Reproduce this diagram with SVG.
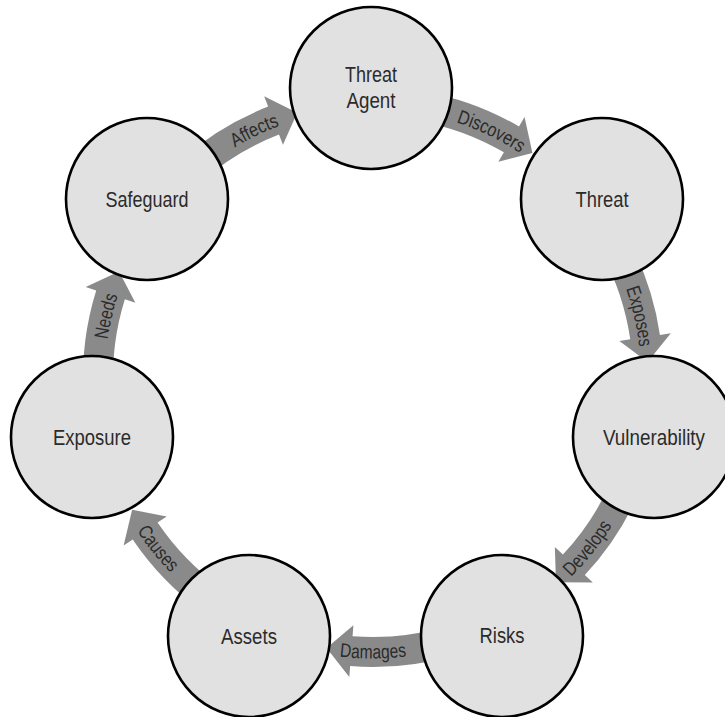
<svg xmlns="http://www.w3.org/2000/svg" xmlns:xlink="http://www.w3.org/1999/xlink" width="725" height="717" viewBox="0 0 725 717">
<style>
.node circle{fill:#e1e1e1;stroke:#000;stroke-width:2.6}
.node text{font-family:"Liberation Sans",Arial,sans-serif;font-size:22px;fill:#2b2b2b;text-anchor:middle}
.arrow{fill:#8a8a8a;stroke:none}
.lbl{font-family:"Liberation Sans",Arial,sans-serif;font-size:19.5px;fill:#2b2b2b;text-anchor:middle}
</style>
<defs>
<path id="arw" d="M50.36,-285.59 A290,290 0 0 1 146.01,-250.57 L151.55,-260.07 L159.43,-224.08 L125.37,-215.14 L130.90,-224.65 A260,260 0 0 0 45.15,-256.05 Z"/>
<path id="tpc" d="M-189.5,-189.5 A268,268 0 0 1 189.5,-189.5" fill="none"/>
<path id="tpa" d="M-199.05,199.05 A281.5,281.5 0 0 0 199.05,199.05" fill="none"/>
</defs>
<rect width="725" height="717" fill="#fff"/>
<g id="connectors">
<g transform="translate(373,377)">
<use xlink:href="#arw" href="#arw" class="arrow"/>
<use xlink:href="#arw" href="#arw" class="arrow" transform="rotate(51.4286)"/>
<use xlink:href="#arw" href="#arw" class="arrow" transform="rotate(102.8571)"/>
<use xlink:href="#arw" href="#arw" class="arrow" transform="rotate(154.2857)"/>
<use xlink:href="#arw" href="#arw" class="arrow" transform="rotate(205.7143)"/>
<use xlink:href="#arw" href="#arw" class="arrow" transform="rotate(257.1429)"/>
<use xlink:href="#arw" href="#arw" class="arrow" transform="rotate(308.5714)"/>
<text class="lbl" transform="rotate(25.7143)"><textPath xlink:href="#tpc" href="#tpc" startOffset="50%" textLength="71" lengthAdjust="spacingAndGlyphs">Discovers</textPath></text>
<text class="lbl" transform="rotate(77.1429)"><textPath xlink:href="#tpc" href="#tpc" startOffset="50%" textLength="60" lengthAdjust="spacingAndGlyphs">Exposes</textPath></text>
<text class="lbl" transform="rotate(-51.4286)"><textPath xlink:href="#tpa" href="#tpa" startOffset="50%" textLength="66" lengthAdjust="spacingAndGlyphs">Develops</textPath></text>
<text class="lbl"><textPath xlink:href="#tpa" href="#tpa" startOffset="50%" textLength="67" lengthAdjust="spacingAndGlyphs">Damages</textPath></text>
<text class="lbl" transform="rotate(51.4286)"><textPath xlink:href="#tpa" href="#tpa" startOffset="50%" textLength="54" lengthAdjust="spacingAndGlyphs">Causes</textPath></text>
<text class="lbl" transform="rotate(-77.1429)"><textPath xlink:href="#tpc" href="#tpc" startOffset="50%" textLength="45" lengthAdjust="spacingAndGlyphs">Needs</textPath></text>
<text class="lbl" transform="rotate(-25.7143)"><textPath xlink:href="#tpc" href="#tpc" startOffset="50%" textLength="50" lengthAdjust="spacingAndGlyphs">Affects</textPath></text>
</g>
</g>
<g id="node-threat-agent" class="node"><circle cx="371" cy="88" r="81"/><text x="371" y="82" textLength="52" lengthAdjust="spacingAndGlyphs">Threat</text><text x="371" y="108" textLength="49" lengthAdjust="spacingAndGlyphs">Agent</text></g>
<g id="node-threat" class="node"><circle cx="602" cy="199" r="81"/><text x="602" y="207" textLength="53" lengthAdjust="spacingAndGlyphs">Threat</text></g>
<g id="node-vulnerability" class="node"><circle cx="654" cy="437" r="81"/><text x="654" y="445" textLength="102" lengthAdjust="spacingAndGlyphs">Vulnerability</text></g>
<g id="node-risks" class="node"><circle cx="502" cy="636" r="81"/><text x="502" y="643" textLength="45" lengthAdjust="spacingAndGlyphs">Risks</text></g>
<g id="node-assets" class="node"><circle cx="249" cy="636" r="81"/><text x="249" y="644" textLength="56" lengthAdjust="spacingAndGlyphs">Assets</text></g>
<g id="node-exposure" class="node"><circle cx="92" cy="437" r="81"/><text x="92" y="445" textLength="78" lengthAdjust="spacingAndGlyphs">Exposure</text></g>
<g id="node-safeguard" class="node"><circle cx="147" cy="199" r="81"/><text x="147" y="207" textLength="83" lengthAdjust="spacingAndGlyphs">Safeguard</text></g>
</svg>
